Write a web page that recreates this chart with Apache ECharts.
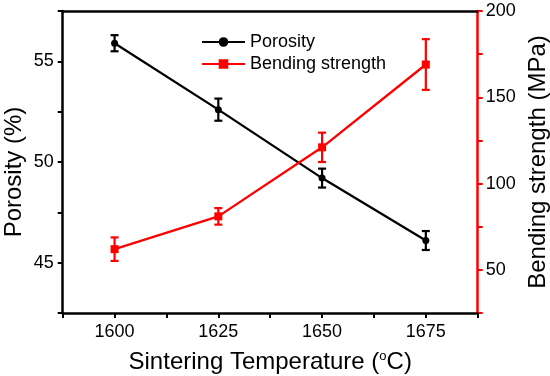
<!DOCTYPE html>
<html><head><meta charset="utf-8">
<script src="https://cdn.jsdelivr.net/npm/echarts@6/dist/echarts.min.js"></script>
<style>html,body{margin:0;padding:0;background:#fff}#c{width:550px;height:376px}</style>
</head><body><div id="c"></div>
<script>
var temps = [1600, 1625, 1650, 1675];
var porosity = [55.9, 52.6, 49.2, 46.1];
var porosityErr = [0.4, 0.55, 0.47, 0.47];
var strength = [62, 81, 121, 169];
var strengthErr = [6.8, 4.8, 8.5, 14.7];
var xTickLabels = [1600, 1625, 1650, 1675];
var leftTickLabels = [45, 50, 55];
var rightTickLabels = [50, 100, 150, 200];

var FONT = 'Liberation Sans, Arial, sans-serif';
function pairs(xs, ys){ return xs.map(function(x,i){return [x, ys[i]];}); }
function errData(xs, ys, es){ return xs.map(function(x,i){return [x, ys[i]-es[i], ys[i]+es[i]];}); }
function errRender(color){
  return function(params, api){
    var x = api.value(0);
    var lo = api.coord([x, api.value(1)]);
    var hi = api.coord([x, api.value(2)]);
    var w = 4;
    var st = {stroke: color, lineWidth: 2.2};
    return {type:'group', children:[
      {type:'line', shape:{x1:lo[0],y1:lo[1],x2:hi[0],y2:hi[1]}, style:st},
      {type:'line', shape:{x1:lo[0]-w,y1:lo[1],x2:lo[0]+w,y2:lo[1]}, style:st},
      {type:'line', shape:{x1:hi[0]-w,y1:hi[1],x2:hi[0]+w,y2:hi[1]}, style:st}
    ]};
  };
}
function onlyIn(list){ return function(v){ return list.indexOf(Math.round(v*1000)/1000) >= 0 ? String(v) : ''; }; }

var chart = echarts.init(document.getElementById('c'));
chart.setOption({
  animation: false,
  grid: {left: 62.7, right: 72.3, top: 11, bottom: 63, containLabel: false, outerBoundsMode: 'none'},
  legend: {
    orient: 'vertical', left: 196, top: 28, itemWidth: 43, itemHeight: 12, itemGap: 4,
    textStyle: {fontFamily: FONT, fontSize: 18, color: '#000'},
    data: ['Porosity', 'Bending strength']
  },
  graphic: [{
    type: 'text', x: 14, y: 172, rotation: Math.PI / 2,
    style: {text: 'Porosity (%)', fontFamily: FONT, fontSize: 24, fill: '#000', align: 'center', verticalAlign: 'middle'}
  }],
  xAxis: [{
    type: 'value', min: 1587.5, max: 1687.5, interval: 12.5,
    name: 'Sintering Temperature ({sup|o}C)', nameLocation: 'middle', nameGap: 37,
    nameTextStyle: {fontFamily: FONT, fontSize: 24, color: '#000',
      rich: {sup: {fontFamily: FONT, fontSize: 13, color: '#000', verticalAlign: 'top', padding: [0,0,12,0]}}},
    axisLine: {lineStyle: {color: '#000', width: 2.5}},
    axisTick: {inside: false, length: 5, lineStyle: {color: '#000', width: 2}},
    axisLabel: {formatter: onlyIn(xTickLabels), fontFamily: FONT, fontSize: 18, color: '#000', margin: 10},
    splitLine: {show: false}
  }, {
    type: 'value', position: 'top', min: 1587.5, max: 1687.5, interval: 12.5,
    axisLine: {show: true, lineStyle: {color: '#000', width: 2.5}},
    axisTick: {show: false}, axisLabel: {show: false}, splitLine: {show: false}
  }],
  yAxis: [{
    type: 'value', position: 'left', min: 42.5, max: 57.5, interval: 2.5,
    axisLine: {show: true, lineStyle: {color: '#000', width: 2.5}},
    axisTick: {show: true, inside: false, length: 5, lineStyle: {color: '#000', width: 2}},
    axisLabel: {formatter: onlyIn(leftTickLabels), fontFamily: FONT, fontSize: 18, color: '#000', margin: 9},
    splitLine: {show: false}
  }, {
    type: 'value', position: 'right', min: 25, max: 200, interval: 25,
    name: 'Bending strength (MPa)', nameLocation: 'middle', nameGap: 45, nameRotate: 90,
    nameTextStyle: {fontFamily: FONT, fontSize: 24, color: '#000'},
    axisLine: {show: true, lineStyle: {color: '#ff0000', width: 2.5}},
    axisTick: {show: true, inside: false, length: 5, lineStyle: {color: '#ff0000', width: 2}},
    axisLabel: {formatter: onlyIn(rightTickLabels), fontFamily: FONT, fontSize: 18, color: '#000', margin: 8},
    splitLine: {show: false}
  }],
  series: [{
    name: 'Porosity', type: 'line', xAxisIndex: 0, yAxisIndex: 0,
    data: pairs(temps, porosity), symbol: 'circle', symbolSize: 7,
    lineStyle: {color: '#000', width: 2.3}, itemStyle: {color: '#000'}, z: 3
  }, {
    name: 'Bending strength', type: 'line', xAxisIndex: 0, yAxisIndex: 1,
    data: pairs(temps, strength), symbol: 'rect', symbolSize: 8,
    lineStyle: {color: '#ff0000', width: 2.3}, itemStyle: {color: '#ff0000'}, z: 3
  }, {
    type: 'custom', xAxisIndex: 0, yAxisIndex: 0, renderItem: errRender('#000'),
    data: errData(temps, porosity, porosityErr), encode: {x: 0, y: [1, 2]}, z: 4, silent: true
  }, {
    type: 'custom', xAxisIndex: 0, yAxisIndex: 1, renderItem: errRender('#ff0000'),
    data: errData(temps, strength, strengthErr), encode: {x: 0, y: [1, 2]}, z: 4, silent: true
  }]
});
</script></body></html>
